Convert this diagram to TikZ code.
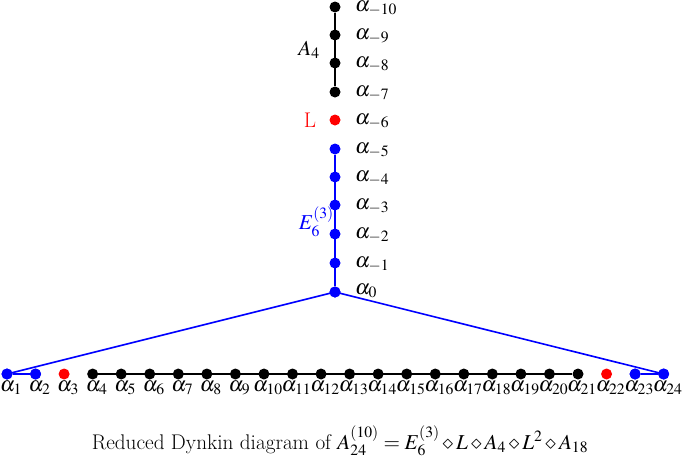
\documentclass[tikz,border=0pt]{standalone}
\usepackage{mathptmx}
\begin{document}
\begin{tikzpicture}[x=1pt,y=-1pt,
  dot/.style={circle,fill,inner sep=0pt,minimum size=11pt},
  edge/.style={line width=1.6pt},
  font=\fontsize{21.2}{25}\selectfont]
\useasboundingbox (0,0) rectangle (685,458);
% vertical chain
\foreach \k/\y/\c in {10/7/black,9/35/black,8/63/black,7/92/black,6/120/red,5/149/blue,4/177/blue,3/205/blue,2/234/blue,1/263/blue}{
  \node[dot,\c] (m\k) at (335,\y) {};
  \node[anchor=base west,inner sep=0pt] (lm\k) at ([xshift=20pt,yshift=-4.5pt]m\k.center) {$\alpha_{-\k}$};
}
\node[dot,blue] (m0) at (335,292) {};
\node[anchor=base west,inner sep=0pt] (lm0) at ([xshift=20pt,yshift=-2pt]m0.center) {$\alpha_{0}$};
% bottom row
\foreach \i in {1,...,24}{
  \pgfmathsetmacro{\xx}{7+(\i-1)*28.55}
  \ifnum\i<3 \def\cc{blue}\else\ifnum\i=3 \def\cc{red}\else\ifnum\i<22 \def\cc{black}\else\ifnum\i=22 \def\cc{red}\else\def\cc{blue}\fi\fi\fi\fi
  \node[dot,\cc] (b\i) at (\xx,374) {};
  \node[anchor=base,inner sep=0pt] (lb\i) at ([xshift=4pt,yshift=-17pt]b\i.center) {$\alpha_{\i}$};
}
% edges
\draw[edge,black] (m10) -- (m7);
\draw[edge,blue] (m5) -- (m0);
\draw[edge,blue] (b1.center) -- (m0.center) -- (b24.center);
\draw[edge,blue] (b1) -- (b2);
\draw[edge,blue] (b23) -- (b24);
\draw[edge,black] (b4) -- (b21);
% redraw dots on top
\foreach \i in {1,2,23,24}{\fill[blue] (b\i) circle (5.5pt);}
\fill[blue] (m0) circle (5.5pt);
% group labels
\node (A4) at (309,50) {$A_4$};
\node[red] (L) at (310,120) {L};
\node[blue,anchor=east,inner sep=0pt] (E6) at (334,222) {$E_6^{(3)}$};
% caption
\node[anchor=base] (cap) at (340,449) {Reduced Dynkin diagram of $A_{24}^{(10)}=E_6^{(3)}\diamond L\diamond A_4\diamond L^2\diamond A_{18}$};
\end{tikzpicture}
\end{document}
